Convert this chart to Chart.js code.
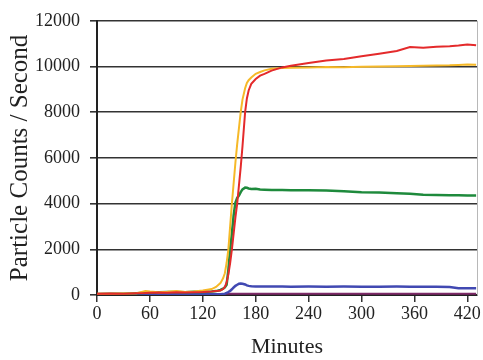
<!DOCTYPE html>
<html>
<head>
<meta charset="utf-8">
<script src="https://cdn.jsdelivr.net/npm/chart.js@4.4.1/dist/chart.umd.min.js"></script>
<style>
  html, body { margin: 0; padding: 0; background: #fff; }
  #wrap { width: 483px; height: 360px; }
</style>
</head>
<body>
<div id="wrap"><canvas id="chart" width="483" height="360"></canvas></div>
<script>
const minutes = [0, 15, 30, 45, 55, 60, 70, 80, 90, 100, 110, 120, 125, 130, 135, 140, 143, 145, 147, 149,
    151, 153, 155, 157, 159, 161, 163, 165, 168, 170, 172, 175, 180, 185, 190, 198, 210, 220, 240, 260,
    280, 300, 320, 340, 355, 370, 385, 400, 410, 420, 430];

const redCounts = [60, 70, 60, 80, 90, 100, 110, 100, 120, 110, 120, 130, 140, 150, 170, 200, 260, 350, 550, 900,
    1400, 2000, 2700, 3400, 4000, 4800, 5600, 6500, 8000, 8600, 8950, 9240, 9450, 9600, 9680, 9820, 9960, 10030, 10150, 10260,
    10330, 10450, 10560, 10680, 10850, 10820, 10860, 10890, 10920, 10960, 10930];

const yellowCounts = [50, 60, 70, 80, 170, 150, 120, 140, 180, 130, 150, 200, 230, 260, 350, 520, 730, 950, 1400, 2000,
    3000, 4000, 4900, 5800, 6600, 7300, 8000, 8550, 9050, 9280, 9400, 9520, 9680, 9760, 9830, 9900, 9930, 9950, 9960, 9980,
    9970, 9990, 10000, 10010, 10020, 10030, 10040, 10050, 10070, 10090, 10080];

const greenCounts = [40, 50, 60, 80, 100, 110, 120, 130, 130, 120, 140, 130, 140, 150, 170, 220, 280, 330, 450, 1100,
    2000, 2700, 3500, 4050, 4250, 4350, 4500, 4620, 4700, 4690, 4660, 4640, 4650, 4620, 4610, 4600, 4590, 4580, 4580, 4570,
    4540, 4500, 4490, 4450, 4430, 4390, 4380, 4370, 4360, 4350, 4350];

const blueCounts = [20, 20, 25, 25, 30, 30, 30, 25, 30, 30, 30, 30, 30, 30, 30, 30, 40, 60, 90, 130,
    180, 250, 330, 400, 450, 490, 500, 490, 460, 420, 400, 380, 370, 370, 370, 370, 370, 365, 370, 365,
    370, 365, 365, 370, 365, 360, 360, 355, 300, 290, 290];

const purpleCounts = [30, 30, 30, 30, 30, 30, 30, 30, 30, 30, 30, 30, 30, 30, 30, 35, 40, 45, 50, 50,
    50, 50, 50, 50, 50, 50, 50, 50, 50, 50, 50, 50, 50, 50, 50, 50, 50, 50, 50, 50,
    50, 50, 50, 50, 50, 50, 50, 50, 50, 50, 50];

const xTicks = [0, 60, 120, 180, 240, 300, 360, 420];
const yTicks = [0, 2000, 4000, 6000, 8000, 10000, 12000];

function toPoints(values) {
    return values.map((v, i) => ({ x: minutes[i], y: v }));
}

const axisFont = { family: "'Liberation Serif', 'DejaVu Serif', serif", size: 18 };

const rightEdge = {
    id: "rightEdge",
    afterDraw(chart) {
        const { ctx, chartArea } = chart;
        ctx.save();
        ctx.strokeStyle = "#b8b8b8";
        ctx.lineWidth = 1;
        ctx.beginPath();
        ctx.moveTo(chartArea.right + 0.5, chartArea.top);
        ctx.lineTo(chartArea.right + 0.5, chartArea.bottom);
        ctx.stroke();
        ctx.restore();
    }
};

new Chart(document.getElementById("chart").getContext("2d"), {
    type: "line",
    data: {
        datasets: [
            { data: toPoints(redCounts), borderColor: "#e42a2b", borderWidth: 2 },
            { data: toPoints(yellowCounts), borderColor: "#f6b928", borderWidth: 2 },
            { data: toPoints(greenCounts), borderColor: "#1e8a3c", borderWidth: 2.5 },
            { data: toPoints(blueCounts), borderColor: "#4149b2", borderWidth: 2.5 },
            { data: toPoints(purpleCounts), borderColor: "#7e2a68", borderWidth: 2 }
        ]
    },
    options: {
        responsive: false,
        animation: false,
        layout: { padding: { top: 20, right: 6, left: 0, bottom: 0 } },
        elements: { point: { radius: 0 }, line: { tension: 0 } },
        plugins: { legend: { display: false }, tooltip: { enabled: false } },
        scales: {
            x: {
                type: "linear",
                min: 0,
                max: 431,
                afterFit(scale) { scale.height = 65; },
                afterBuildTicks(scale) { scale.ticks = xTicks.map(v => ({ value: v })); },
                ticks: { font: axisFont, color: "#222", padding: 1, maxRotation: 0, callback: v => String(v) },
                grid: { drawOnChartArea: false, drawTicks: true, tickLength: 7, color: "#333", lineWidth: 1.5 },
                border: { display: true, color: "#222", width: 2 },
                title: {
                    display: true,
                    text: "Minutes",
                    font: { family: axisFont.family, size: 22 },
                    color: "#222",
                    padding: { top: 4, bottom: 0 }
                }
            },
            y: {
                min: 0,
                max: 12000,
                afterFit(scale) { scale.width = 97; },
                afterBuildTicks(scale) { scale.ticks = yTicks.map(v => ({ value: v })); },
                ticks: { font: axisFont, color: "#222", padding: 10, callback: v => String(v) },
                grid: { color: "#333", lineWidth: 1.6, tickLength: 7 },
                border: { display: true, color: "#222", width: 2 },
                title: {
                    display: true,
                    text: "Particle Counts / Second",
                    font: { family: axisFont.family, size: 25 },
                    color: "#222",
                    padding: { top: 5, bottom: 4 }
                }
            }
        }
    },
    plugins: [rightEdge]
});
</script>
</body>
</html>
